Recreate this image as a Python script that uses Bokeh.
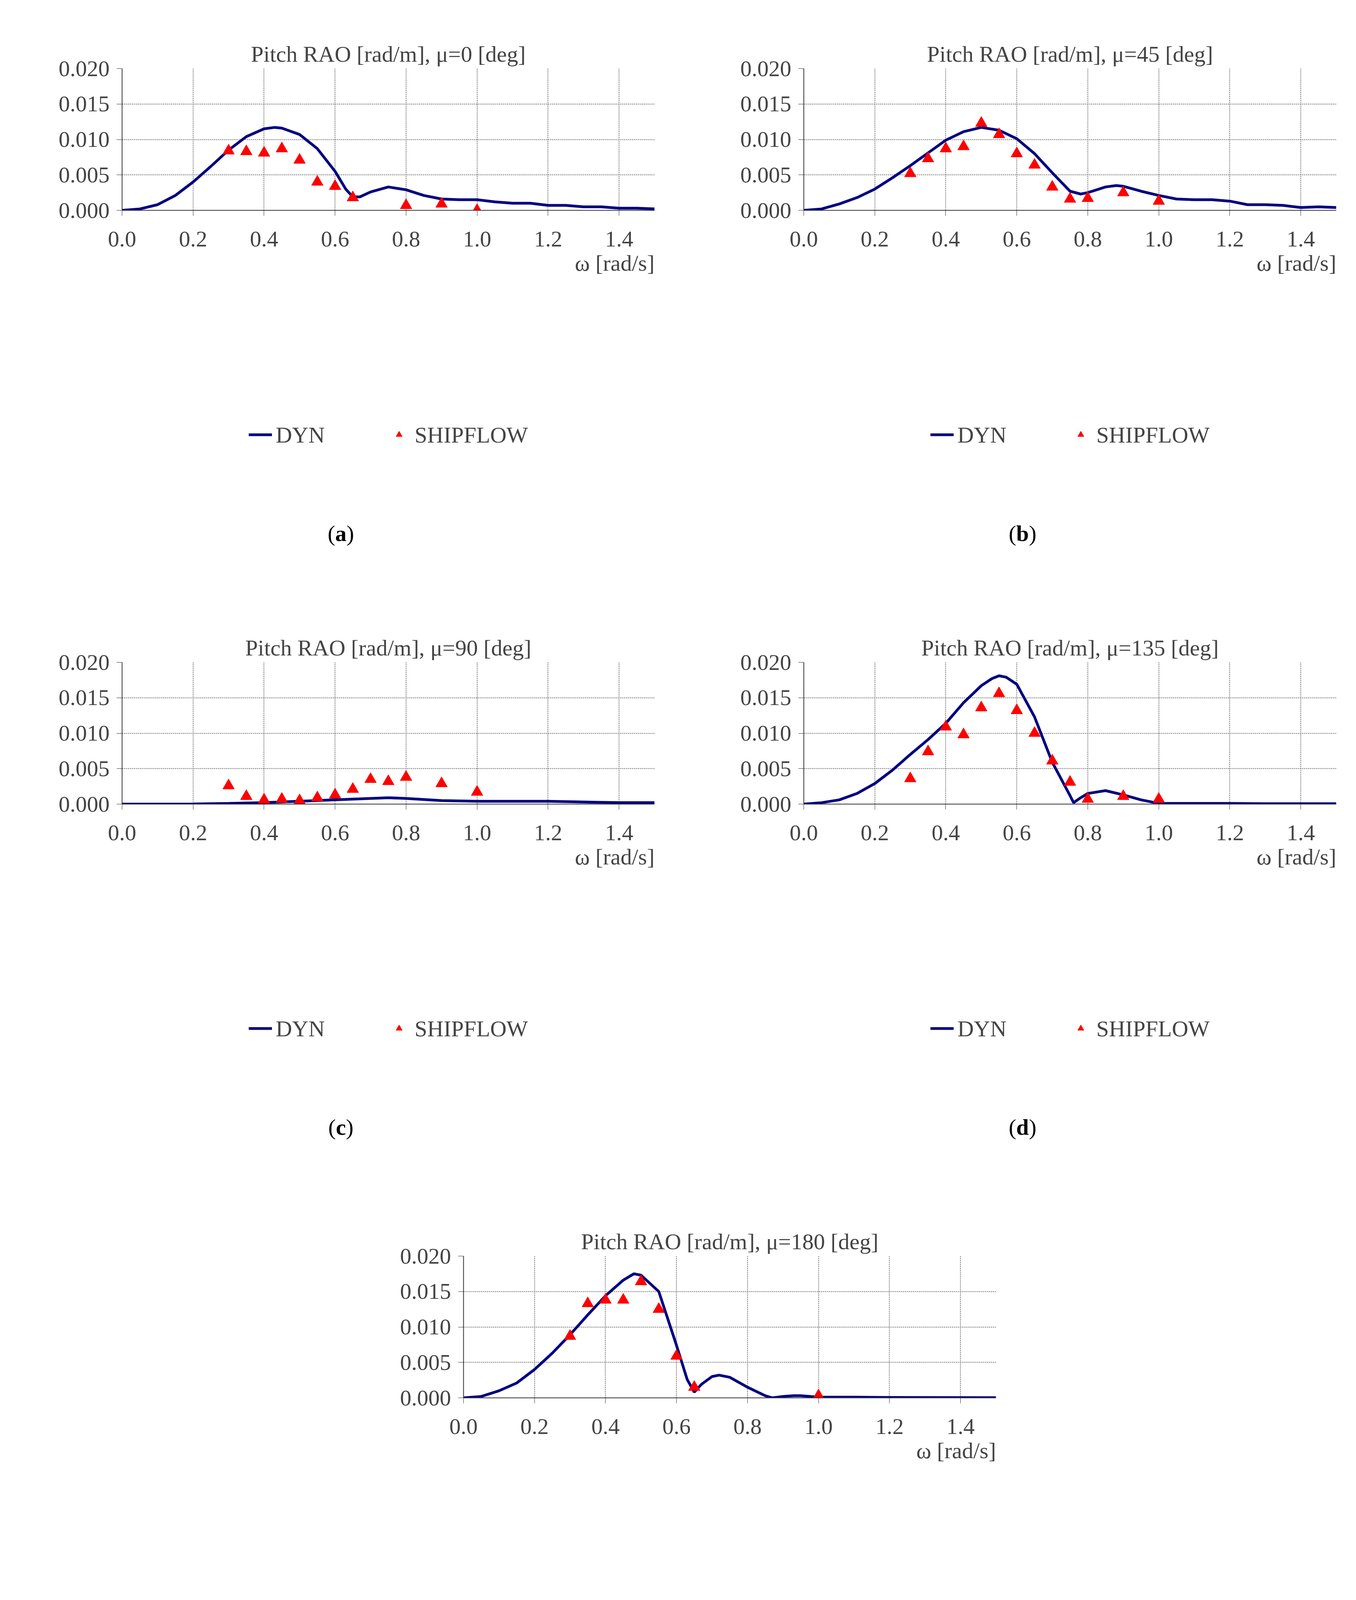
from bokeh.plotting import figure
from bokeh.layouts import column, row, Spacer
from bokeh.models import (Range1d, FixedTicker, NumeralTickFormatter, Title, Legend, LegendItem, Div)
from bokeh.embed import file_html
from bokeh.resources import INLINE

# ---- data ----
a_dyn_x = [0, 0.05, 0.1, 0.15, 0.2, 0.25, 0.3, 0.35, 0.4, 0.43, 0.45, 0.5, 0.55, 0.6, 0.63, 0.65, 0.67, 0.7, 0.75, 0.8, 0.85, 0.9, 0.95, 1.0, 1.05, 1.1, 1.15, 1.2, 1.25, 1.3, 1.35, 1.4, 1.45, 1.5]
a_dyn_y = [0, 0.0002, 0.0008, 0.0021, 0.0040, 0.0062, 0.0085, 0.0104, 0.0115, 0.0117, 0.0116, 0.0107, 0.0087, 0.0055, 0.0030, 0.0019, 0.0019, 0.0026, 0.0033, 0.0029, 0.0021, 0.0016, 0.0015, 0.0015, 0.0012, 0.0010, 0.0010, 0.0007, 0.0007, 0.0005, 0.0005, 0.0003, 0.0003, 0.0002]
a_sf_x = [0.3, 0.35, 0.4, 0.45, 0.5, 0.55, 0.6, 0.65, 0.8, 0.9, 1.0]
a_sf_y = [0.0084, 0.0083, 0.0081, 0.0087, 0.0071, 0.0040, 0.0034, 0.0018, 0.0007, 0.0009, 0.0000]

b_dyn_x = [0, 0.05, 0.1, 0.15, 0.2, 0.25, 0.3, 0.35, 0.4, 0.45, 0.5, 0.55, 0.6, 0.65, 0.7, 0.75, 0.78, 0.8, 0.85, 0.88, 0.9, 0.95, 1.0, 1.05, 1.1, 1.15, 1.2, 1.25, 1.3, 1.35, 1.4, 1.45, 1.5]
b_dyn_y = [0, 0.0002, 0.0009, 0.0018, 0.0030, 0.0046, 0.0063, 0.0081, 0.0099, 0.0111, 0.0117, 0.0113, 0.0101, 0.0080, 0.0053, 0.0027, 0.0023, 0.0025, 0.0033, 0.0035, 0.0034, 0.0027, 0.0021, 0.0016, 0.0015, 0.0015, 0.0013, 0.0008, 0.0008, 0.0007, 0.0004, 0.0005, 0.0004]
b_sf_x = [0.3, 0.35, 0.4, 0.45, 0.5, 0.55, 0.6, 0.65, 0.7, 0.75, 0.8, 0.9, 1.0]
b_sf_y = [0.0052, 0.0073, 0.0087, 0.0090, 0.0123, 0.0107, 0.0080, 0.0064, 0.0033, 0.0016, 0.0017, 0.0025, 0.0013]

c_dyn_x = [0, 0.2, 0.3, 0.4, 0.5, 0.6, 0.7, 0.75, 0.8, 0.9, 1.0, 1.2, 1.4, 1.5]
c_dyn_y = [0, 0.00002, 0.0001, 0.0002, 0.0004, 0.0006, 0.0008, 0.0009, 0.0008, 0.0005, 0.0004, 0.0004, 0.0002, 0.0002]
c_sf_x = [0.3, 0.35, 0.4, 0.45, 0.5, 0.55, 0.6, 0.65, 0.7, 0.75, 0.8, 0.9, 1.0]
c_sf_y = [0.0026, 0.0011, 0.0006, 0.0007, 0.0005, 0.0009, 0.0013, 0.0021, 0.0035, 0.0032, 0.0038, 0.0029, 0.0017]

d_dyn_x = [0, 0.05, 0.1, 0.15, 0.2, 0.25, 0.3, 0.35, 0.4, 0.45, 0.5, 0.53, 0.55, 0.57, 0.6, 0.65, 0.7, 0.75, 0.76, 0.78, 0.8, 0.85, 0.9, 0.95, 1.0, 1.2, 1.3, 1.5]
d_dyn_y = [0, 0.0002, 0.0006, 0.0015, 0.0029, 0.0048, 0.0070, 0.0091, 0.0114, 0.0143, 0.0167, 0.0177, 0.0181, 0.0179, 0.0169, 0.0123, 0.0059, 0.0012, 0.0002, 0.0009, 0.0015, 0.0019, 0.0013, 0.0006, 0.0001, 0.0001, 0.00005, 0.00005]
d_sf_x = [0.3, 0.35, 0.4, 0.45, 0.5, 0.55, 0.6, 0.65, 0.7, 0.75, 0.8, 0.9, 1.0]
d_sf_y = [0.0036, 0.0074, 0.0109, 0.0098, 0.0136, 0.0156, 0.0132, 0.0100, 0.0061, 0.0031, 0.0007, 0.0011, 0.0007]

e_dyn_x = [0, 0.05, 0.1, 0.15, 0.2, 0.25, 0.3, 0.35, 0.4, 0.45, 0.48, 0.5, 0.55, 0.6, 0.63, 0.65, 0.67, 0.7, 0.72, 0.75, 0.8, 0.85, 0.87, 0.9, 0.93, 0.95, 1.0, 1.1, 1.2, 1.5]
e_dyn_y = [0, 0.0002, 0.0010, 0.0021, 0.0040, 0.0063, 0.0089, 0.0117, 0.0144, 0.0166, 0.0175, 0.0173, 0.0150, 0.0074, 0.0026, 0.0008, 0.0019, 0.0030, 0.0032, 0.0029, 0.0015, 0.0003, 0.0, 0.0002, 0.0003, 0.0003, 0.0001, 0.0001, 0.00005, 0.00003]
e_sf_x = [0.3, 0.35, 0.4, 0.45, 0.5, 0.55, 0.6, 0.65, 1.0]
e_sf_y = [0.0087, 0.0133, 0.0138, 0.0138, 0.0164, 0.0125, 0.0059, 0.0015, 0.0003]

titles = ["Pitch RAO [rad/m], μ=0 [deg]", "Pitch RAO [rad/m], μ=45 [deg]", "Pitch RAO [rad/m], μ=90 [deg]",
          "Pitch RAO [rad/m], μ=135 [deg]", "Pitch RAO [rad/m], μ=180 [deg]"]
x_ticks = [0, 0.2, 0.4, 0.6, 0.8, 1.0, 1.2, 1.4]
y_ticks = [0, 0.005, 0.010, 0.015, 0.020]

FONT = "Liberation Serif"
FS = "58px"
PW = 1735


def panel(title, dx, dy, sx, sy):
    p = figure(width=PW, height=1220, min_border_left=312, min_border_right=60,
               min_border_top=175, min_border_bottom=10,
               x_range=Range1d(0, 1.5), y_range=Range1d(0, 0.02),
               output_backend="svg", toolbar_location=None)
    p.title.text = title
    p.title.align = "center"
    p.title.text_font = FONT
    p.title.text_font_size = FS
    p.title.text_font_style = "normal"
    p.outline_line_color = None
    for ax in (p.xaxis[0], p.yaxis[0]):
        ax.major_label_text_font = FONT
        ax.major_label_text_font_size = FS
        ax.minor_tick_line_color = None
        ax.major_tick_out = 14
        ax.major_tick_in = 0
        ax.axis_line_color = "#333333"
        ax.major_tick_line_color = "#333333"
        ax.axis_line_width = 2
    p.xaxis.major_label_standoff = 40
    p.yaxis.major_label_standoff = 18
    p.xaxis.ticker = FixedTicker(ticks=x_ticks)
    p.yaxis.ticker = FixedTicker(ticks=y_ticks)
    p.xaxis.formatter = NumeralTickFormatter(format="0.0")
    p.yaxis.formatter = NumeralTickFormatter(format="0.000")
    p.xgrid.ticker = FixedTicker(ticks=x_ticks)
    p.ygrid.ticker = FixedTicker(ticks=y_ticks)
    for g in (p.xgrid[0], p.ygrid[0]):
        g.grid_line_color = "#777777"
        g.grid_line_dash = "3 2"
        g.grid_line_width = 2
    ln = p.line(dx, dy, line_color="#000080", line_width=7)
    sc = p.scatter(sx, sy, marker="triangle", size=30, fill_color="red", line_color="red")
    lab = Title(text="ω [rad/s]", align="right", text_font=FONT, text_font_size=FS,
                text_font_style="normal", offset=0)
    p.add_layout(lab, "below")
    leg = Legend(items=[LegendItem(label="DYN", renderers=[ln]), LegendItem(label="SHIPFLOW", renderers=[sc])],
                 orientation="horizontal", location="center", border_line_color=None,
                 label_text_font=FONT, label_text_font_size=FS, spacing=160,
                 glyph_width=60, glyph_height=40, label_standoff=10, margin=5, padding=5)
    p.add_layout(leg, "below")
    return p


def cap(letter, h=290):
    return Div(text=f"(<b>{letter}</b>)", width=PW, height=h,
               styles={"font-family": FONT, "font-size": FS, "text-align": "center", "width": f"{PW}px",
                       "padding-top": "100px"})


pa = panel(titles[0], a_dyn_x, a_dyn_y, a_sf_x, a_sf_y)
pb = panel(titles[1], b_dyn_x, b_dyn_y, b_sf_x, b_sf_y)
pc = panel(titles[2], c_dyn_x, c_dyn_y, c_sf_x, c_sf_y)
pd = panel(titles[3], d_dyn_x, d_dyn_y, d_sf_x, d_sf_y)
pe = panel(titles[4], e_dyn_x, e_dyn_y, e_sf_x, e_sf_y)

layout = column(
    row(column(pa, cap("a")), column(pb, cap("b"))),
    row(column(pc, cap("c")), column(pd, cap("d"))),
    row(Spacer(width=874), column(pe, cap("e", 200))),
)

open("out.html", "w").write(file_html(layout, INLINE))
